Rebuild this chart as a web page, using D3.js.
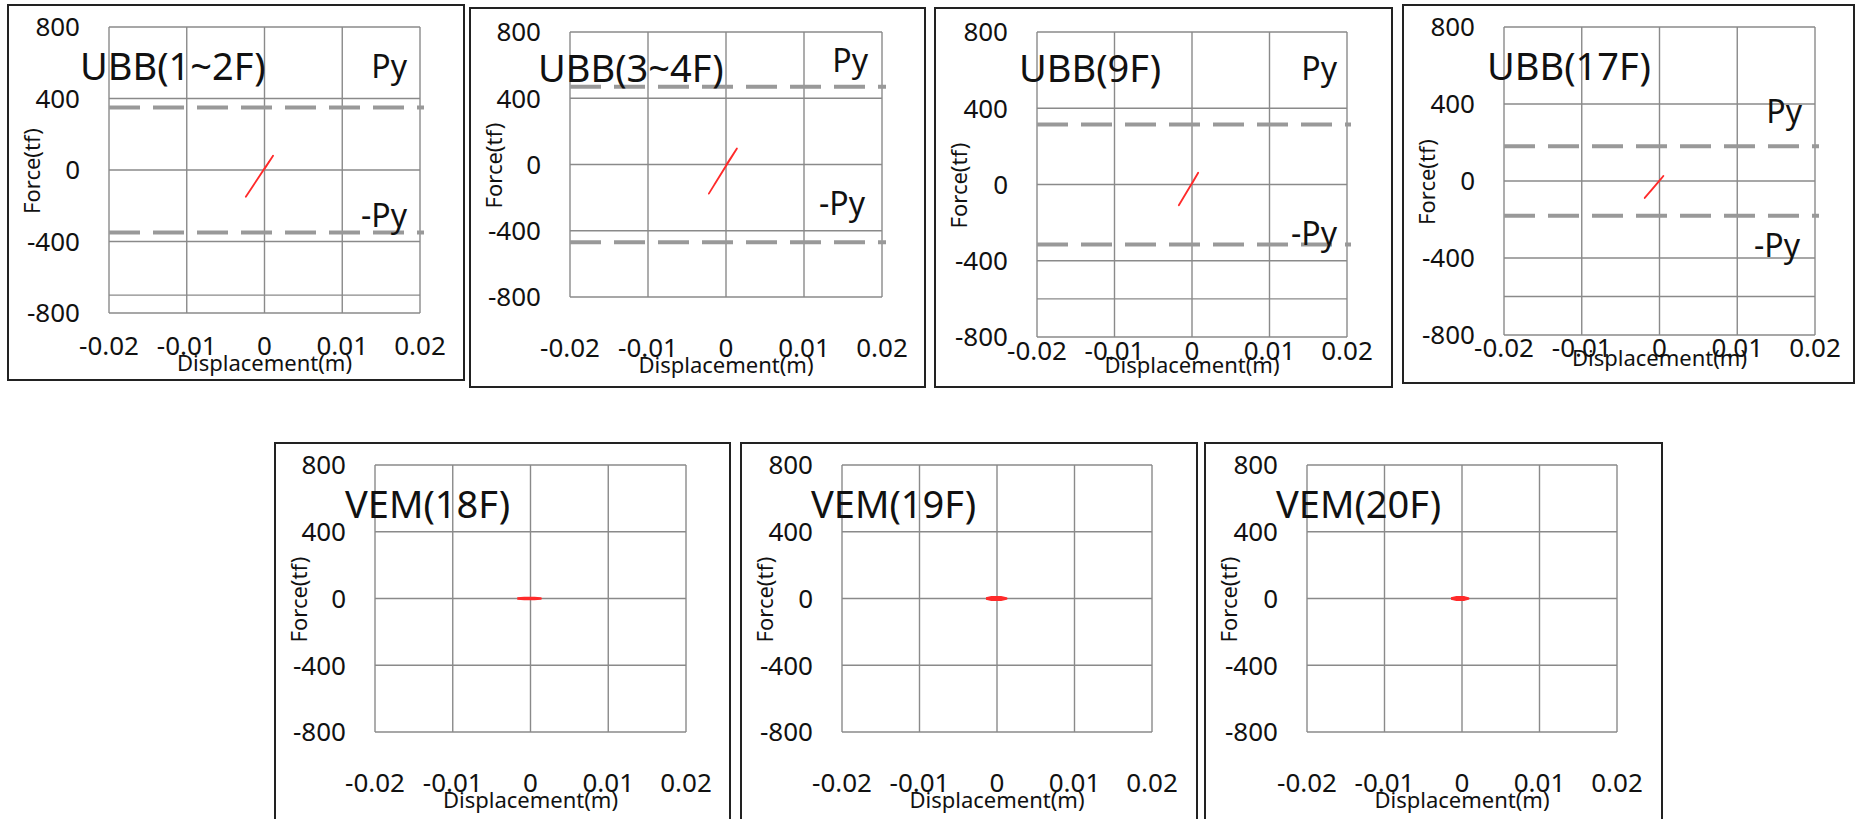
<!DOCTYPE html>
<html>
<head>
<meta charset="utf-8">
<script src="https://cdn.jsdelivr.net/npm/d3@7"></script>
<style>
  body { margin:0; background:#fff; }
  svg text { font-family:"Noto Sans", "Open Sans", sans-serif; fill:#111; }
</style>
</head>
<body>
<script>
// 각 패널 데이터
var titles = ["UBB(1~2F)", "UBB(3~4F)", "UBB(9F)", "UBB(17F)", "VEM(18F)", "VEM(19F)", "VEM(20F)"];
var pyValues = [350, 470, 315, 180, null, null, null];
var extraGrid = [[-700], [], [-600], [-600], [], [], []];

var xTickValues = [-0.02, -0.01, 0, 0.01, 0.02];
var xTickLabels = ["-0.02", "-0.01", "0", "0.01", "0.02"];
var yTickValues = [800, 400, 0, -400, -800];
var yTickLabels = ["800", "400", "0", "-400", "-800"];

var dispSeries = [
  [0, 0.0011, -0.0024, 0.0006, -0.0018, 0.0002, 0],
  [0, 0.0014, -0.0022, 0.0009, -0.0015, 0.0003, 0],
  [0, 0.0008, -0.0017, 0.0005, -0.0010, 0.0002, 0],
  [0, 0.0005, -0.0019, 0.0003, -0.0012, 0.0001, 0],
  [-0.0017, -0.0008, 0.0005, 0.0013, 0.0005, -0.0008, -0.0017],
  [-0.0014, -0.0007, 0.0005, 0.0012, 0.0005, -0.0007, -0.0014],
  [-0.0014, -0.0007, 0.0003, 0.0008, 0.0003, -0.0007, -0.0014]
];
var forceSeries = [
  [5, 80, -150, 48, -110, 22, 5],
  [-5, 97, -176, 60, -122, 15, -5],
  [5, 62, -109, 41, -61, 20, 5],
  [2, 26, -88, 16, -55, 7, 2],
  [0, -3, -3, 0, 3, 3, 0],
  [0, -8, -8, 0, 8, 8, 0],
  [0, -7, -7, 0, 7, 7, 0]
];

// 배치 (px)
var layout = [
  {box:[8,5,464,380],    plot:[109,27,420,313],  title:[80,80],    py:[407,78],   npy:[407,227],  tickY:355, labY:371},
  {box:[470,8,925,387],  plot:[570,32,882,297],  title:[538,82],   py:[868,72],   npy:[865,215],  tickY:357, labY:373},
  {box:[935,8,1392,387], plot:[1037,32,1347,337],title:[1019,82],  py:[1337,80],  npy:[1337,245], tickY:360, labY:373},
  {box:[1403,5,1854,383],plot:[1504,27,1815,335],title:[1487,80],  py:[1802,123], npy:[1800,257], tickY:357, labY:366},
  {box:[275,443,730,840],plot:[375,465,686,732], title:[345,518],  tickY:792, labY:808},
  {box:[741,443,1197,840],plot:[842,465,1152,732],title:[811,518], tickY:792, labY:808},
  {box:[1205,443,1662,840],plot:[1307,465,1617,732],title:[1276,518],tickY:792, labY:808}
];

var width = 1856, height = 819;
var svg = d3.select("body").append("svg").attr("width", width).attr("height", height);

titles.forEach(function(title, i){
  var L = layout[i];
  var g = svg.append("g");

  g.append("rect")
    .attr("x", L.box[0]).attr("y", L.box[1])
    .attr("width", L.box[2]-L.box[0]).attr("height", L.box[3]-L.box[1])
    .attr("fill", "none").attr("stroke", "#222").attr("stroke-width", 2);

  var x = d3.scaleLinear().domain([-0.02, 0.02]).range([L.plot[0], L.plot[2]]);
  var y = d3.scaleLinear().domain([-800, 800]).range([L.plot[3], L.plot[1]]);

  // grid
  g.selectAll(".vg").data(xTickValues).enter().append("line")
    .attr("x1", function(d){ return x(d); }).attr("x2", function(d){ return x(d); })
    .attr("y1", y(800)).attr("y2", y(-800))
    .attr("stroke", "#8a8a8a").attr("stroke-width", 1.4);
  g.selectAll(".hg").data(yTickValues.concat(extraGrid[i])).enter().append("line")
    .attr("y1", function(d){ return y(d); }).attr("y2", function(d){ return y(d); })
    .attr("x1", x(-0.02)).attr("x2", x(0.02))
    .attr("stroke", "#8a8a8a").attr("stroke-width", 1.4);

  // tick labels
  g.selectAll(".yl").data(yTickValues).enter().append("text")
    .attr("x", x(-0.02) - 29).attr("y", function(d){ return y(d); })
    .attr("dy", "0.36em").attr("text-anchor", "end")
    .style("font-size", "26px")
    .text(function(d, j){ return yTickLabels[j]; });
  g.selectAll(".xl").data(xTickValues).enter().append("text")
    .attr("x", function(d){ return x(d); }).attr("y", L.tickY)
    .attr("text-anchor", "middle")
    .style("font-size", "26px")
    .text(function(d, j){ return xTickLabels[j]; });

  g.append("text")
    .attr("x", (L.plot[0]+L.plot[2])/2).attr("y", L.labY)
    .attr("text-anchor", "middle").style("font-size", "22px")
    .text("Displacement(m)");
  var fy = (L.plot[1]+L.plot[3])/2 + 1;
  g.append("text")
    .attr("transform", "translate(" + (L.box[0]+24) + "," + fy + ") rotate(-90)")
    .attr("text-anchor", "middle").attr("dy", "0.35em").style("font-size", "22px")
    .text("Force(tf)");

  // Py lines
  if (pyValues[i] !== null) {
    g.selectAll(".py").data([pyValues[i], -pyValues[i]]).enter().append("line")
      .attr("x1", x(-0.02)).attr("x2", x(0.02) + 4)
      .attr("y1", function(d){ return y(d); }).attr("y2", function(d){ return y(d); })
      .attr("stroke", "#999").attr("stroke-width", 4)
      .attr("stroke-dasharray", "31,13");
    g.append("text").attr("x", L.py[0]).attr("y", L.py[1])
      .attr("text-anchor", "end").style("font-size", "32px").text("Py");
    g.append("text").attr("x", L.npy[0]).attr("y", L.npy[1])
      .attr("text-anchor", "end").style("font-size", "32px").text("-Py");
  }

  // hysteresis
  var pts = dispSeries[i].map(function(d, j){ return [d, forceSeries[i][j]]; });
  var line = d3.line()
    .x(function(d){ return x(d[0]); })
    .y(function(d){ return y(d[1]); });
  g.append("path").attr("d", line(pts))
    .attr("fill", i >= 4 ? "#ff1a1a" : "none")
    .attr("stroke", "#ff2a2a")
    .attr("stroke-width", i >= 4 ? 2.5 : 1.8)
    .attr("stroke-linejoin", "round");

  g.append("text").attr("x", L.title[0]).attr("y", L.title[1])
    .style("font-size", "38px").text(title);
});
</script>
</body>
</html>
